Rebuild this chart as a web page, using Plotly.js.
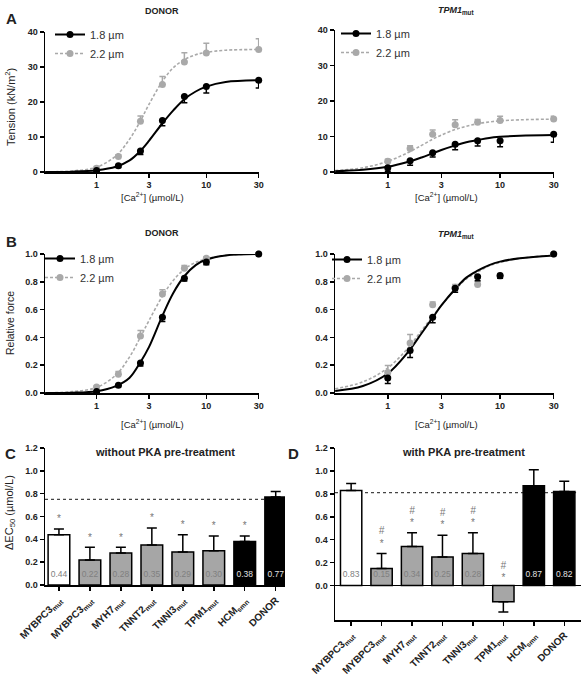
<!DOCTYPE html>
<html>
<head>
<meta charset="utf-8">
<script src="https://cdn.plot.ly/plotly-3.0.1.min.js"></script>
<style>html,body{margin:0;padding:0;background:#fff}#chart{width:583px;height:675px}</style>
</head>
<body>
<div id="chart"></div>
<script>
// ---------- DATA ----------
const conc = [1, 1.58, 2.51, 3.98, 6.31, 10, 30];
const curveX = [0.34, 0.6, 1, 1.5, 2, 2.5, 3, 4, 5, 6.3, 8, 10, 15, 30];

// Panel A – absolute tension (kN/m2)
const aDonor18 = [0.4, 1.8, 6.0, 14.7, 21.6, 24.4, 26.2];
const aDonor18Err = [0.3, 0.5, 1.0, 1.5, 1.8, 1.8, 2.2];
const aDonor22 = [1.1, 4.4, 14.5, 25.0, 31.4, 34.0, 35.0];
const aDonor22Err = [0.5, 0.5, 1.5, 2.3, 2.7, 2.8, 3.1];
const aDonor18Fit = [0, 0.1, 0.5, 1.5, 3.3, 6.0, 8.9, 14.0, 17.6, 20.8, 23.0, 24.4, 25.7, 26.2];
const aDonor22Fit = [0.05, 0.3, 1.4, 4.6, 9.4, 14.5, 19.3, 26.0, 29.8, 32.1, 33.5, 34.2, 34.8, 35.0];

const aTpm18 = [1.2, 3.2, 5.4, 7.8, 8.8, 8.8, 10.6];
const aTpm18Err = [1.0, 1.3, 1.2, 1.5, 1.5, 1.7, 2.2];
const aTpm22 = [3.0, 6.6, 10.6, 13.3, 14.0, 14.5, 14.9];
const aTpm22Err = [0.6, 0.8, 1.2, 1.4, 0.8, 1.2, 0.8];
const aTpm18Fit = [0.2, 0.6, 1.45, 2.8, 4.1, 5.25, 6.2, 7.5, 8.4, 9.0, 9.6, 9.9, 10.2, 10.4];
const aTpm22Fit = [0.4, 1.2, 3.0, 5.4, 7.5, 9.2, 10.4, 12.0, 12.9, 13.6, 14.1, 14.4, 14.7, 14.9];

// Panel B – relative force
const bDonor18 = [0.01, 0.055, 0.215, 0.545, 0.825, 0.943, 1.0];
const bDonor18Err = [0.01, 0.01, 0.02, 0.03, 0.02, 0.02, 0];
const bDonor22 = [0.043, 0.134, 0.41, 0.713, 0.897, 0.969, 1.0];
const bDonor22Err = [0.01, 0.02, 0.04, 0.03, 0.02, 0.01, 0];
const bDonor18Fit = [0, 0.002, 0.013, 0.05, 0.11, 0.22, 0.33, 0.56, 0.72, 0.84, 0.92, 0.96, 0.99, 1.0];
const bDonor22Fit = [0.001, 0.01, 0.04, 0.13, 0.26, 0.40, 0.52, 0.70, 0.81, 0.89, 0.94, 0.965, 0.99, 1.0];

const bTpm18 = [0.108, 0.306, 0.545, 0.754, 0.837, 0.845, 1.0];
const bTpm18Err = [0.04, 0.05, 0.04, 0.03, 0.03, 0.02, 0];
const bTpm22 = [0.148, 0.36, 0.634, 0.76, 0.78, 0.84, 1.0];
const bTpm22Err = [0.05, 0.06, 0.02, 0.02, 0.02, 0.02, 0];
const bTpm18Fit = [0.015, 0.05, 0.14, 0.29, 0.43, 0.54, 0.63, 0.75, 0.83, 0.88, 0.92, 0.945, 0.97, 0.99];
const bTpm22Fit = [0.03, 0.08, 0.18, 0.32, 0.45, 0.55, 0.63, 0.745, 0.82, 0.87, 0.915, 0.94, 0.97, 0.99];

// Panels C & D – delta EC50
const groups = ['MYBPC3<sub>mut</sub>', 'MYBPC3<sub>mut</sub>', 'MYH7<sub>mut</sub>', 'TNNT2<sub>mut</sub>',
                'TNNI3<sub>mut</sub>', 'TPM1<sub>mut</sub>', 'HCM<sub>smn</sub>', 'DONOR'];
const groupFill = ['#ffffff', '#a6a6a6', '#a6a6a6', '#a6a6a6', '#a6a6a6', '#a6a6a6', '#000000', '#000000'];
const cValues = [0.44, 0.22, 0.28, 0.35, 0.29, 0.30, 0.38, 0.77];
const cErr = [0.05, 0.11, 0.05, 0.15, 0.15, 0.13, 0.05, 0.05];
const cLabels = ['0.44', '0.22', '0.28', '0.35', '0.29', '0.30', '0.38', '0.77'];
const cStar = ['*', '*', '*', '*', '*', '*', '*', ''];
const cRef = 0.75;

const dValues = [0.83, 0.15, 0.34, 0.25, 0.28, -0.14, 0.87, 0.82];
const dErr = [0.06, 0.13, 0.12, 0.19, 0.18, 0.09, 0.14, 0.09];
const dLabels = ['0.83', '0.15', '0.34', '0.25', '0.28', '', '0.87', '0.82'];
const dStar = ['', '*', '*', '*', '*', '*', '', ''];
const dHash = ['', '#', '#', '#', '#', '#', '', ''];
const dRef = 0.81;

// ---------- STYLE ----------
const FONT = 'Liberation Sans, Arial, sans-serif';
const BLK = '#000000', GRY = '#a9a9a9';
const W = 583, H = 675;
const px = v => v / W, py = v => 1 - v / H;

const traces = [];
function curvePanel(xa, ya, p18, e18, p22, e22, f18, f22, leg) {
  traces.push({x: curveX, y: f22, xaxis: xa, yaxis: ya, mode: 'lines', line: {color: GRY, width: 1.6, dash: '3px,2px', shape: 'spline'}, showlegend: false, hoverinfo: 'skip'});
  traces.push({x: curveX, y: f18, xaxis: xa, yaxis: ya, mode: 'lines', line: {color: BLK, width: 2, shape: 'spline'}, showlegend: false, hoverinfo: 'skip'});
  traces.push({x: conc, y: p22, xaxis: xa, yaxis: ya, mode: 'markers', marker: {color: GRY, size: 7}, cliponaxis: false, showlegend: false,
    error_y: {type: 'data', symmetric: false, array: e22, arrayminus: e22.map(() => 0), color: GRY, thickness: 1.5, width: 3}});
  traces.push({x: conc, y: p18, xaxis: xa, yaxis: ya, mode: 'markers', marker: {color: BLK, size: 7}, cliponaxis: false, showlegend: false,
    error_y: {type: 'data', symmetric: false, array: e18.map(() => 0), arrayminus: e18, color: BLK, thickness: 1.5, width: 3}});
  traces.push({x: [null], y: [null], xaxis: xa, yaxis: ya, mode: 'lines+markers', name: '1.8 µm', legend: leg,
    line: {color: BLK, width: 2}, marker: {color: BLK, size: 7}});
  traces.push({x: [null], y: [null], xaxis: xa, yaxis: ya, mode: 'lines+markers', name: '2.2 µm', legend: leg,
    line: {color: GRY, width: 1.6, dash: '3px,2px'}, marker: {color: GRY, size: 7}});
}
curvePanel('x', 'y', aDonor18, aDonor18Err, aDonor22, aDonor22Err, aDonor18Fit, aDonor22Fit, 'legend');
curvePanel('x2', 'y2', aTpm18, aTpm18Err, aTpm22, aTpm22Err, aTpm18Fit, aTpm22Fit, 'legend2');
curvePanel('x3', 'y3', bDonor18, bDonor18Err, bDonor22, bDonor22Err, bDonor18Fit, bDonor22Fit, 'legend3');
curvePanel('x4', 'y4', bTpm18, bTpm18Err, bTpm22, bTpm22Err, bTpm18Fit, bTpm22Fit, 'legend4');

const idx = groups.map((_, i) => i);
function textTrace(xa, ya, xs, ys, texts, font) {
  const keep = texts.map((t, i) => i).filter(i => texts[i] !== '');
  const col = Array.isArray(font.color) ? keep.map(i => font.color[i]) : font.color;
  traces.push({x: keep.map(i => xs[i]), y: keep.map(i => ys[i]), xaxis: xa, yaxis: ya, mode: 'text',
    text: keep.map(i => texts[i]), textfont: Object.assign({}, font, {color: col}), showlegend: false, cliponaxis: false, hoverinfo: 'skip'});
}
function barPanel(xa, ya, vals, errs, labels) {
  traces.push({type: 'bar', x: idx, y: vals, xaxis: xa, yaxis: ya, width: 0.7, showlegend: false,
    marker: {color: groupFill, line: {color: BLK, width: 1.5}},
    error_y: {type: 'data', symmetric: false,
      array: vals.map((v, i) => v >= 0 ? errs[i] : 0),
      arrayminus: vals.map((v, i) => v < 0 ? errs[i] : 0),
      color: BLK, thickness: 1.5, width: 5}});
  textTrace(xa, ya, idx, vals.map(() => 0.09), labels,
    {family: FONT, size: 8.5, color: groupFill.map(c => c === '#000000' ? '#e0e0e0' : '#808080')});
}
barPanel('x5', 'y5', cValues, cErr, cLabels);
barPanel('x6', 'y6', dValues, dErr, dLabels);
const sigFont = {family: FONT, size: 10, color: '#777777'};
textTrace('x5', 'y5', idx, cValues.map((v, i) => v + cErr[i] + 0.08), cStar, sigFont);
textTrace('x6', 'y6', idx, dValues.map((v, i) => v >= 0 ? v + dErr[i] + 0.08 : 0.06), dStar, sigFont);
textTrace('x6', 'y6', idx, dValues.map((v, i) => v >= 0 ? v + dErr[i] + 0.19 : 0.17), dHash,
  {family: FONT, size: 10, color: '#777777', style: 'italic'});

// ---------- LAYOUT ----------
const tickFont = {family: FONT, size: 9, color: '#222', weight: 'bold'};
const catFont = {family: FONT, size: 10, color: '#222', weight: 'bold'};
const axBase = {showline: true, linecolor: BLK, linewidth: 1.5, ticks: 'outside', ticklen: 4, tickwidth: 1.5, tickcolor: BLK,
  showgrid: false, zeroline: false, tickfont: tickFont, fixedrange: true};
const logX = (dom, anchor) => Object.assign({}, axBase, {type: 'log', domain: dom, anchor: anchor, range: [-0.47, 1.48],
  tickvals: [1, 3, 10, 30], ticktext: ['1', '3', '10', '30']});
const legendBase = (x, y) => ({x: px(x), y: py(y), xanchor: 'left', yanchor: 'top', bgcolor: 'rgba(0,0,0,0)', borderwidth: 0,
  font: {family: FONT, size: 11, color: '#333'}, itemwidth: 30, tracegroupgap: 0});

const layout = {
  width: W, height: H, margin: {l: 0, r: 0, t: 0, b: 0}, paper_bgcolor: '#fff', plot_bgcolor: 'rgba(0,0,0,0)',
  font: {family: FONT},
  xaxis: logX([px(45), px(259)], 'y'),
  yaxis: Object.assign({}, axBase, {domain: [py(172), py(32)], range: [0, 40], tickvals: [0, 10, 20, 30, 40], anchor: 'x'}),
  xaxis2: logX([px(335), px(554)], 'y2'),
  yaxis2: Object.assign({}, axBase, {domain: [py(172), py(30)], range: [0, 40], tickvals: [0, 10, 20, 30, 40], anchor: 'x2'}),
  xaxis3: logX([px(45), px(259)], 'y3'),
  yaxis3: Object.assign({}, axBase, {domain: [py(393), py(254)], range: [0, 1], tickvals: [0, 0.2, 0.4, 0.6, 0.8, 1.0], tickformat: '.1f', anchor: 'x3'}),
  xaxis4: logX([px(335), px(554)], 'y4'),
  yaxis4: Object.assign({}, axBase, {domain: [py(393), py(254)], range: [0, 1], tickvals: [0, 0.2, 0.4, 0.6, 0.8, 1.0], tickformat: '.1f', anchor: 'x4'}),
  xaxis5: Object.assign({}, axBase, {domain: [px(45), px(285)], range: [-0.45, 7.3], anchor: 'y5', tickvals: idx, ticktext: groups, tickangle: -45, tickfont: catFont}),
  yaxis5: Object.assign({}, axBase, {domain: [py(585), py(448)], range: [0, 1.2], tickvals: [0, 0.2, 0.4, 0.6, 0.8, 1.0, 1.2], tickformat: '.1f', anchor: 'x5'}),
  xaxis6: Object.assign({}, axBase, {domain: [px(335), px(581)], range: [-0.53, 7.55], anchor: 'y6', tickvals: idx, ticktext: groups, tickangle: -45, tickfont: catFont}),
  yaxis6: Object.assign({}, axBase, {domain: [py(620), py(448)], range: [-0.3, 1.2], tickvals: [0, 0.2, 0.4, 0.6, 0.8, 1.0, 1.2], tickformat: '.1f',
    zeroline: true, zerolinecolor: BLK, zerolinewidth: 1.5, anchor: 'x6'}),
  legend: legendBase(50, 20),
  legend2: legendBase(336, 19),
  legend3: legendBase(40, 244),
  legend4: legendBase(327, 245),
  shapes: [
    {type: 'line', xref: 'x5 domain', yref: 'y5', x0: 0, x1: 0.96, y0: cRef, y1: cRef, layer: 'below', line: {color: '#444', width: 1.2, dash: 'dot'}},
    {type: 'line', xref: 'x6 domain', yref: 'y6', x0: 0, x1: 0.98, y0: dRef, y1: dRef, layer: 'below', line: {color: '#444', width: 1.2, dash: 'dot'}}
  ],
  annotations: []
};

function ann(text, x, y, size, opts) {
  layout.annotations.push(Object.assign({text: text, x: px(x), y: py(y), xref: 'paper', yref: 'paper', showarrow: false,
    xanchor: 'center', yanchor: 'middle', font: {family: FONT, size: size, color: '#222'}}, opts || {}));
}
const bold = (s) => ({font: {family: FONT, size: s, color: '#222', weight: 'bold'}});
ann('A', 11, 19, 15, bold(15));
ann('B', 11, 242, 15, bold(15));
ann('C', 10, 453, 15, bold(15));
ann('D', 293, 453, 15, bold(15));
ann('DONOR', 162, 11, 9, bold(9));
ann('<i>TPM1</i><sub>mut</sub>', 456, 11, 9, bold(9));
ann('DONOR', 162, 233, 9, bold(9));
ann('<i>TPM1</i><sub>mut</sub>', 456, 235, 9, bold(9));
ann('[Ca<sup>2+</sup>] (µmol/L)', 152, 197, 9.5);
ann('[Ca<sup>2+</sup>] (µmol/L)', 446, 197, 9.5);
ann('[Ca<sup>2+</sup>] (µmol/L)', 152, 424, 9.5);
ann('[Ca<sup>2+</sup>] (µmol/L)', 446, 424, 9.5);
ann('Tension (kN/m<sup>2</sup>)', 10, 107, 11, {textangle: -90});
ann('Relative force', 10, 323, 10.5, {textangle: -90});
ann('ΔEC<sub>50</sub> (µmol/L)', 10, 513, 11, {textangle: -90});
ann('without PKA pre-treatment', 165, 452, 11, bold(11));
ann('with PKA pre-treatment', 463, 452, 11, bold(11));

Plotly.newPlot('chart', traces, layout, {displayModeBar: false, staticPlot: true});
</script>
</body>
</html>
